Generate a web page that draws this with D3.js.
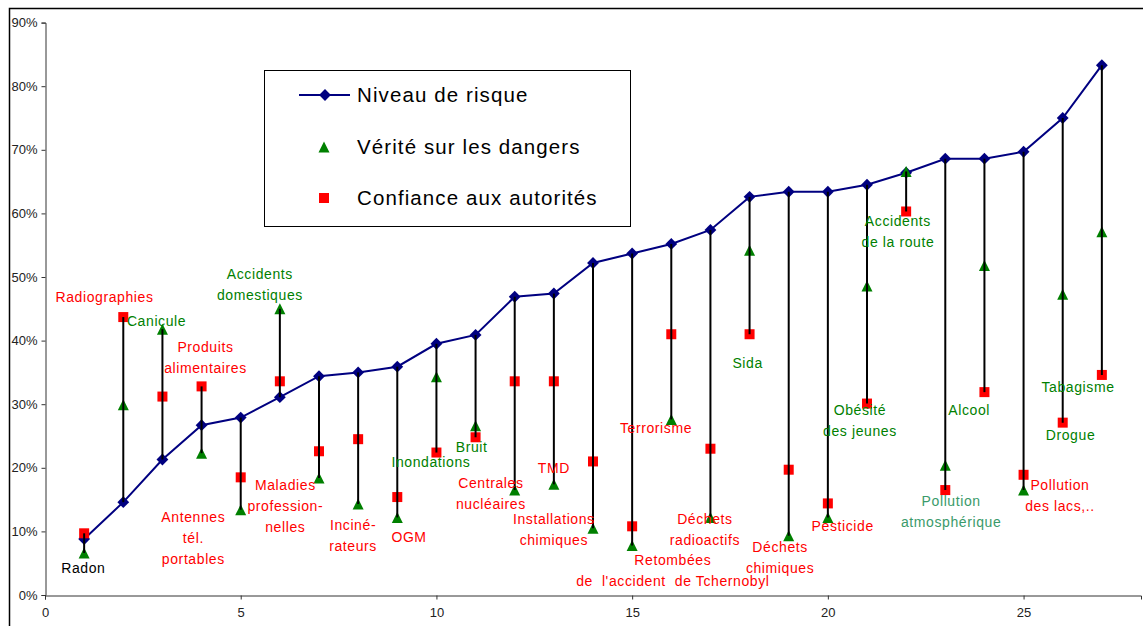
<!DOCTYPE html>
<html>
<head>
<meta charset="utf-8">
<script src="https://cdn.jsdelivr.net/npm/d3@7"></script>
<style>
  body { margin: 0; background: #fff; }
  svg { display: block; font-family: "Liberation Sans", Arial, sans-serif; }
</style>
</head>
<body>
<svg id="chart"></svg>
<script>
// x positions of the 27 risks
const positions = [1, 2, 3, 4, 5, 6, 7, 8, 9, 10, 11, 12, 13, 14, 15, 16, 17, 18, 19, 20, 21, 22, 23, 24, 25, 26, 27];

const categories = [
  ["Radon"], ["Radiographies"], ["Canicule"], ["Produits", "alimentaires"],
  ["Antennes", "tél.", "portables"], ["Accidents", "domestiques"],
  ["Maladies", "profession-", "nelles"], ["Inciné-", "rateurs"], ["OGM"],
  ["Inondations"], ["Bruit"], ["Centrales", "nucléaires"], ["TMD"],
  ["Installations", "chimiques"], ["Retombées", "de\u00a0 l'accident\u00a0 de Tchernobyl"],
  ["Terrorisme"], ["Déchets", "radioactifs"], ["Sida"], ["Déchets", "chimiques"],
  ["Pesticide"], ["Obésité", "des jeunes"], ["Accidents", "de la route"],
  ["Pollution", "atmosphérique"], ["Alcool"], ["Pollution", "des lacs,.."],
  ["Drogue"], ["Tabagisme"]
];

// values in %
const niveauRisque = [8.8, 14.6, 21.3, 26.7, 27.9, 31.1, 34.4, 35.0, 35.9, 39.5, 40.9, 46.9, 47.4, 52.2,
  53.7, 55.2, 57.4, 62.6, 63.4, 63.4, 64.5, 66.4, 68.6, 68.6, 69.7, 75.0, 83.3];
const veriteDangers = [6.6, 29.9, 41.8, 22.3, 13.4, 45.0, 18.4, 14.3, 12.2, 34.3, 26.6, 16.5, 17.4, 10.5,
  7.8, 27.6, 12.2, 54.2, 9.3, 12.2, 48.6, 66.6, 20.4, 51.8, 16.5, 47.3, 57.1];
const confianceAutorites = [9.7, 43.7, 31.2, 32.8, 18.5, 33.6, 22.6, 24.5, 15.4, 22.4, 24.8, 33.6, 33.6, 21.0,
  10.8, 41.0, 23.0, 41.0, 19.7, 14.4, 30.1, 60.3, 16.5, 31.9, 18.9, 27.1, 34.6];

const yTicks = [0, 10, 20, 30, 40, 50, 60, 70, 80, 90];
const xTicks = [0, 5, 10, 15, 20, 25];

// where each category label sits, in data units (x, %)
const labelX = [0.98, 1.52, 2.85, 4.1, 3.79, 5.49, 6.14, 7.87, 9.3, 9.86, 10.9, 11.39, 13.0, 13.0,
  16.04, 15.61, 16.86, 17.95, 18.78, 20.38, 20.82, 21.79, 23.15, 23.61, 25.93, 26.2, 26.39];
const labelY = [4.2, 46.9, 43.1, 39.0, 12.3, 50.5, 17.3, 11.0, 9.07, 20.9, 23.3, 17.6, 19.9, 11.9,
  5.5, 26.2, 11.9, 36.4, 7.6, 10.9, 29.0, 58.8, 14.7, 29.0, 17.3, 25.2, 32.7];
const labelColor = ["#000", "red", "green", "red", "red", "green", "red", "red", "red", "green", "green", "red", "red", "red",
  "red", "red", "red", "green", "red", "red", "green", "green", "#3a9a6a", "green", "red", "green", "green"];

const width = 1143;
const height = 626;

const svg = d3.select("#chart").attr("width", width).attr("height", height);

const xScale = d3.scaleLinear().domain([0, 28]).range([45, 1141]);
const yScale = d3.scaleLinear().domain([0, 90]).range([595, 22.6]);

// chart frame
svg.append("rect")
  .attr("x", 9.5).attr("y", 8.5)
  .attr("width", 1200).attr("height", 700)
  .attr("fill", "none").attr("stroke", "#000").attr("stroke-width", 1.5);

// axes
const yAxis = d3.axisLeft(yScale).tickValues(yTicks).tickFormat((d) => d + "%").tickSize(4).tickPadding(4);
const xAxis = d3.axisBottom(xScale).tickValues(xTicks).tickFormat(d3.format("d")).tickSize(4).tickPadding(8);

const gy = svg.append("g").attr("transform", "translate(45.5,0)").call(yAxis);
const gx = svg.append("g").attr("transform", "translate(0,595.5)").call(xAxis);
[gx, gy].forEach((g) => {
  g.select(".domain").attr("stroke", "#333");
  g.selectAll(".tick line").attr("stroke", "#333");
  g.selectAll(".tick text").attr("fill", "#222").style("font-size", "13px").style("font-family", "'Liberation Sans', Arial, sans-serif");
});

const rows = positions.map((p, i) => ({
  x: p, risque: niveauRisque[i], verite: veriteDangers[i], confiance: confianceAutorites[i]
}));

const triPath = (cx, cy, r) => `M${cx},${cy - r}L${cx + r},${cy + r}L${cx - r},${cy + r}Z`;

// risk line + diamonds
const line = d3.line().x((d) => xScale(d.x)).y((d) => yScale(d.risque));
svg.append("path").datum(rows)
  .attr("d", line).attr("fill", "none")
  .attr("stroke", "#000080").attr("stroke-width", 2);

const diamond = d3.symbol(d3.symbolSquare, 70);
svg.append("g").selectAll("path")
  .data(rows).enter().append("path")
  .attr("d", diamond)
  .attr("transform", (d) => `translate(${xScale(d.x)},${yScale(d.risque)}) rotate(45)`)
  .attr("fill", "#000080");

// triangles
svg.append("g").selectAll("path")
  .data(rows).enter().append("path")
  .attr("d", (d) => triPath(xScale(d.x), yScale(d.verite), 5.5))
  .attr("fill", "#008000");

// squares
svg.append("g").selectAll("rect")
  .data(rows).enter().append("rect")
  .attr("x", (d) => xScale(d.x) - 5)
  .attr("y", (d) => yScale(d.confiance) - 5)
  .attr("width", 10).attr("height", 10)
  .attr("fill", "#ff0000");

// high-low lines
svg.append("g").selectAll("line")
  .data(rows).enter().append("line")
  .attr("x1", (d) => xScale(d.x)).attr("x2", (d) => xScale(d.x))
  .attr("y1", (d) => yScale(Math.max(d.risque, d.verite, d.confiance)))
  .attr("y2", (d) => yScale(Math.min(d.risque, d.verite, d.confiance)))
  .attr("stroke", "#000").attr("stroke-width", 2);

// category labels
const labels = svg.append("g").style("font-size", "14px").style("letter-spacing", "0.6px");
categories.forEach((lines, i) => {
  const t = labels.append("text")
    .attr("text-anchor", "middle")
    .attr("fill", labelColor[i]);
  lines.forEach((ln, j) => {
    t.append("tspan")
      .attr("x", xScale(labelX[i]))
      .attr("y", yScale(labelY[i]) + j * 21)
      .attr("dy", "0.35em")
      .text(ln);
  });
});

// legend
const legend = svg.append("g");
legend.append("rect")
  .attr("x", 264.5).attr("y", 70.5).attr("width", 366).attr("height", 156)
  .attr("fill", "#fff").attr("stroke", "#000").attr("stroke-width", 1);
legend.append("line")
  .attr("x1", 299).attr("x2", 350).attr("y1", 95).attr("y2", 95)
  .attr("stroke", "#000080").attr("stroke-width", 2);
legend.append("path").attr("d", diamond)
  .attr("transform", "translate(325,95) rotate(45)").attr("fill", "#000080");
legend.append("path").attr("d", triPath(324, 147, 5.5)).attr("fill", "#008000");
legend.append("rect").attr("x", 319).attr("y", 193).attr("width", 10).attr("height", 10).attr("fill", "#ff0000");

const legendItems = ["Niveau de risque", "Vérité sur les dangers", "Confiance aux autorités"];
const legendYs = [95, 147, 198];
legendItems.forEach((txt, i) => {
  legend.append("text")
    .attr("x", 357).attr("y", legendYs[i]).attr("dy", "0.35em")
    .style("font-size", "20.5px").style("letter-spacing", "1.1px")
    .attr("fill", "#000")
    .text(txt);
});
</script>
</body>
</html>
